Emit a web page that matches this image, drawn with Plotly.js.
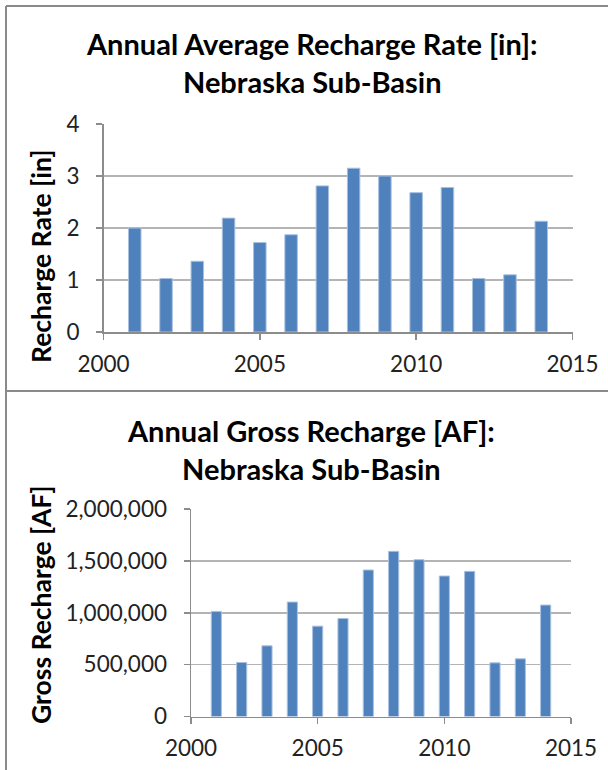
<!DOCTYPE html>
<html>
<head>
<meta charset="utf-8">
<script src="https://cdn.plot.ly/plotly-3.0.1.min.js"></script>
<style>
html,body{margin:0;padding:0;background:#fff;}
#chart{width:608px;height:770px;}
</style>
</head>
<body>
<div id="chart"></div>
<script>
const years = [2001,2002,2003,2004,2005,2006,2007,2008,2009,2010,2011,2012,2013,2014];
const rechargeRate = [2.00,1.03,1.36,2.19,1.72,1.87,2.81,3.15,3.00,2.68,2.78,1.03,1.10,2.13];
const grossRecharge = [1013000,521000,681000,1103000,871000,945000,1412000,1592000,1511000,1354000,1399000,517000,556000,1074000];
const topTitle = "Annual Average Recharge Rate [in]:<br>Nebraska Sub-Basin";
const bottomTitle = "Annual Gross Recharge [AF]:<br>Nebraska Sub-Basin";
const topYLabel = "Recharge Rate [in]";
const bottomYLabel = "Gross Recharge [AF]";
const xTicks = [2000,2005,2010,2015];
const topYTicks = [0,1,2,3,4];
const bottomYTicks = [0,500000,1000000,1500000,2000000];
const bottomYTickText = ["0","500,000","1,000,000","1,500,000","2,000,000"];

const W = 608, H = 770;
const px = v => v / W;
const py = v => 1 - v / H;
const FONT = "Lato, 'Liberation Sans', sans-serif";
const barColor = "#4F81BD";
const gridColor = "#b4b4b4";
const axisColor = "#8c8c8c";

const traces = [
  {type:"bar", x:years, y:rechargeRate, xaxis:"x", yaxis:"y", width:0.4,
   marker:{color:barColor, line:{color:"#a9c1e0", width:1}}, hoverinfo:"x+y"},
  {type:"bar", x:years, y:grossRecharge, xaxis:"x2", yaxis:"y2", width:0.4,
   marker:{color:barColor, line:{color:"#a9c1e0", width:1}}, hoverinfo:"x+y"}
];

const xCommon = {
  range:[2000,2015], tickvals:xTicks, ticktext:xTicks.map(String),
  showgrid:false, zeroline:false, showline:true, linecolor:axisColor, linewidth:1.5,
  ticks:"outside", ticklen:6, tickcolor:axisColor, tickwidth:1.5,
  tickfont:{family:FONT, size:22.5, color:"#222"}, ticklabelstandoff:5, fixedrange:true
};
const yCommon = {
  showgrid:true, gridcolor:gridColor, gridwidth:1.5, zeroline:false,
  showline:true, linecolor:axisColor, linewidth:1.5,
  ticks:"outside", ticklen:6, tickcolor:axisColor, tickwidth:1.5,
  tickfont:{family:FONT, size:22.5, color:"#222"}, ticklabelstandoff:12, fixedrange:true
};

const layout = {
  width:W, height:H, margin:{l:0,r:0,t:0,b:0},
  paper_bgcolor:"#fff", plot_bgcolor:"#fff", showlegend:false, bargap:0,
  xaxis:Object.assign({}, xCommon, {domain:[px(103.5), px(572.5)], anchor:"y"}),
  yaxis:Object.assign({}, yCommon, {domain:[py(332), py(124)], anchor:"x",
    range:[0,4], tickvals:topYTicks, ticktext:topYTicks.map(String)}),
  xaxis2:Object.assign({}, xCommon, {domain:[px(191), px(571)], anchor:"y2"}),
  yaxis2:Object.assign({}, yCommon, {domain:[py(716.5), py(509)], anchor:"x2",
    range:[0,2000000], tickvals:bottomYTicks, ticktext:bottomYTickText}),
  annotations:[
    {text:"<b>"+topTitle.replace("<br>","</b><br><b>")+"</b>", xref:"paper", yref:"paper",
     x:px(312), y:py(63), xanchor:"center", yanchor:"middle", showarrow:false,
     font:{family:FONT, size:29, color:"#000"}},
    {text:"<b>"+bottomTitle.replace("<br>","</b><br><b>")+"</b>", xref:"paper", yref:"paper",
     x:px(311), y:py(449), xanchor:"center", yanchor:"middle", showarrow:false,
     font:{family:FONT, size:29, color:"#000"}},
    {text:"<b>"+topYLabel+"</b>", xref:"paper", yref:"paper", textangle:-90,
     x:px(41), y:py(256), xanchor:"center", yanchor:"middle", showarrow:false,
     font:{family:FONT, size:26.5, color:"#000"}},
    {text:"<b>"+bottomYLabel+"</b>", xref:"paper", yref:"paper", textangle:-90,
     x:px(41), y:py(605), xanchor:"center", yanchor:"middle", showarrow:false,
     font:{family:FONT, size:26.5, color:"#000"}}
  ],
  shapes:[
    {type:"line", xref:"paper", yref:"paper", x0:px(6), x1:1, y0:py(6), y1:py(6), line:{color:"#8a8a8a", width:2}},
    {type:"line", xref:"paper", yref:"paper", x0:px(6), x1:px(6), y0:py(6), y1:0, line:{color:"#8a8a8a", width:2}},
    {type:"line", xref:"paper", yref:"paper", x0:px(6), x1:1, y0:py(391), y1:py(391), line:{color:"#8a8a8a", width:2}}
  ]
};

Plotly.newPlot("chart", traces, layout, {displayModeBar:false, staticPlot:true});
</script>
</body>
</html>
